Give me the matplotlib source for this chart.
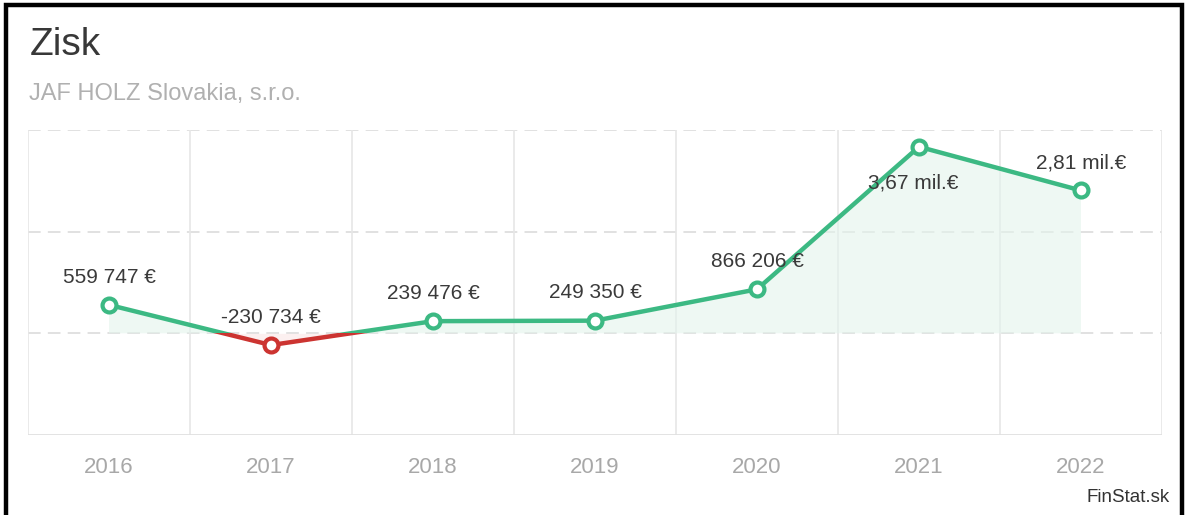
import matplotlib
matplotlib.use("Agg")
import matplotlib.pyplot as plt
from matplotlib.patches import Rectangle
import numpy as np

years = ["2016", "2017", "2018", "2019", "2020", "2021", "2022"]
values = [559747, -230734, 239476, 249350, 866206, 3670000, 2810000]
labels = ["559 747 €", "-230 734 €", "239 476 €", "249 350 €", "866 206 €", "3,67 mil.€", "2,81 mil.€"]
title = "Zisk"
subtitle = "JAF HOLZ Slovakia, s.r.o."
source = "FinStat.sk"

GREEN = "#3cb983"
RED = "#cc3431"
W, H = 1186, 515

plt.rcParams['font.family'] = ['Liberation Sans', 'DejaVu Sans']
fig = plt.figure(figsize=(W / 100, H / 100), dpi=100)
ax = fig.add_axes([28 / W, 80 / H, (1162 - 28) / W, (435 - 130) / H])

x = np.arange(len(years))
y = np.array(values, dtype=float)

ax.set_xlim(-0.5, len(years) - 0.5)
ax.set_ylim(-2e6, 4e6)

# grid
for yy in [0, 2e6, 4e6]:
    ax.axhline(yy, color="#dedede", lw=1.3, ls=(0, (7, 4)), zorder=0)
for xx in np.arange(-0.5, len(years), 1.0):
    ax.axvline(xx, color="#e6e6e6", lw=1.2, zorder=0)
ax.axhline(-2e6, color="#e0e0e0", lw=2, zorder=0)

# fill
ax.fill_between(x, y, 0, where=y >= 0, interpolate=True, color="#e3f4ec", alpha=0.6, lw=0, zorder=1)
ax.fill_between(x, y, 0, where=y <= 0, interpolate=True, color="#fbe3e3", alpha=0.5, lw=0, zorder=1)

# lines clipped by sign
lg, = ax.plot(x, y, color=GREEN, lw=3.2, zorder=3, solid_capstyle="round")
lr, = ax.plot(x, y, color=RED, lw=3.2, zorder=3, solid_capstyle="round")
clip_pos = Rectangle((-1, 0), 10, 1e8, transform=ax.transData)
clip_neg = Rectangle((-1, -1e8), 10, 1e8, transform=ax.transData)
lg.set_clip_path(clip_pos)
lr.set_clip_path(clip_neg)

for xi, yi in zip(x, y):
    c = GREEN if yi >= 0 else RED
    ax.plot(xi, yi, marker="o", ms=10, mfc="white", mec=c, mew=3, zorder=4)

# value labels
for i, (xi, yi, lab) in enumerate(zip(x, y, labels)):
    if i == 5:
        ax.annotate(lab, (xi, yi), xytext=(-4, -26), textcoords="offset points",
                    ha="center", va="center", fontsize=15, color="#3a3a3a", zorder=5)
    else:
        ax.annotate(lab, (xi, yi), xytext=(0, 20), textcoords="offset points",
                    ha="center", va="center", fontsize=15, color="#3a3a3a", zorder=5)

ax.set_xticks(x)
ax.set_xticklabels(years)
ax.tick_params(axis="x", length=0, pad=16, labelsize=16, labelcolor="#a8a8a8")
ax.set_yticks([])
for s in ax.spines.values():
    s.set_visible(False)

fig.text(30 / W, 1 - 45 / H, title, fontsize=28, color="#383838", va="center", ha="left")
fig.text(29 / W, 1 - 94 / H, subtitle, fontsize=17, color="#b0b0b0", va="center", ha="left")
fig.text(1170 / W, 1 - 498 / H, source, fontsize=13.5, color="#333333", va="center", ha="right")

# border
fig.patches.append(Rectangle((5.5 / W, -0.05), (1181.5 - 5.5) / W, 1.05 - 5 / H,
                             transform=fig.transFigure, fill=False, ec="black", lw=3.2))

fig.savefig("out.png", dpi=100, facecolor="white")
